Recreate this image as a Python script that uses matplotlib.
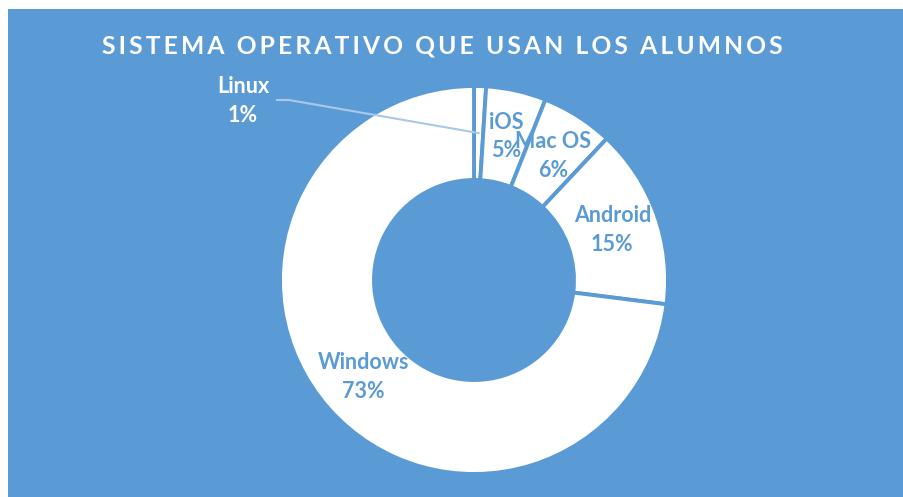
import matplotlib.pyplot as plt
import numpy as np
# Donut chart: operating systems used by students

labels = ["Linux", "iOS", "Mac OS", "Android", "Windows"]
values = [1, 5, 6, 15, 73]
title = "SISTEMA OPERATIVO QUE USAN LOS ALUMNOS"

BLUE = "#5B9BD5"
W, H = 904, 497

fig = plt.figure(figsize=(W / 100, H / 100), dpi=100, facecolor="white")
ax = fig.add_axes([0, 0, 1, 1])
ax.set_xlim(0, W)
ax.set_ylim(0, H)
ax.set_aspect("equal")
ax.axis("off")

def py(y):  # pixel row -> data y
    return H - y

# blue chart area (white strip at left and top)
ax.add_patch(plt.Rectangle((8, 0), W - 8, H - 9, facecolor=BLUE, edgecolor="none", zorder=0))

cx, cy, R = 474, py(280), 194
wedges, _ = ax.pie(values, startangle=90, counterclock=False, center=(cx, cy), radius=R,
                   colors=["white"] * len(values),
                   wedgeprops=dict(width=94, edgecolor=BLUE, linewidth=2.8))
ax.set_xlim(0, W)
ax.set_ylim(0, H)

font = dict(family=["Lato", "DejaVu Sans"], weight="bold")
total = sum(values)
cum = np.cumsum([0] + values)
for i, (lab, v) in enumerate(zip(labels, values)):
    mid = 90 - 360 * (cum[i] + v / 2) / total
    r = 147
    x = cx + r * np.cos(np.radians(mid))
    y = cy + r * np.sin(np.radians(mid))
    txt = f"{lab}\n{v / total * 100:.0f}%"
    if lab == "Linux":
        ax.plot([277, 289, x], [py(100), py(100), y], color="#A9C9EA", lw=1.5, zorder=5)
        ax.text(243, py(101), txt, ha="center", va="center", color="white",
                fontsize=15.5, linespacing=1.45, zorder=6, **font)
    else:
        ax.text(x, y, txt, ha="center", va="center", color=BLUE,
                fontsize=15.5, linespacing=1.45, zorder=6, **font)

ax.text(442, py(46), "\u2009".join(title), ha="center", va="center", color="white",
        fontsize=17.7, **font)

fig.savefig("out.png", dpi=100, facecolor=fig.get_facecolor())
